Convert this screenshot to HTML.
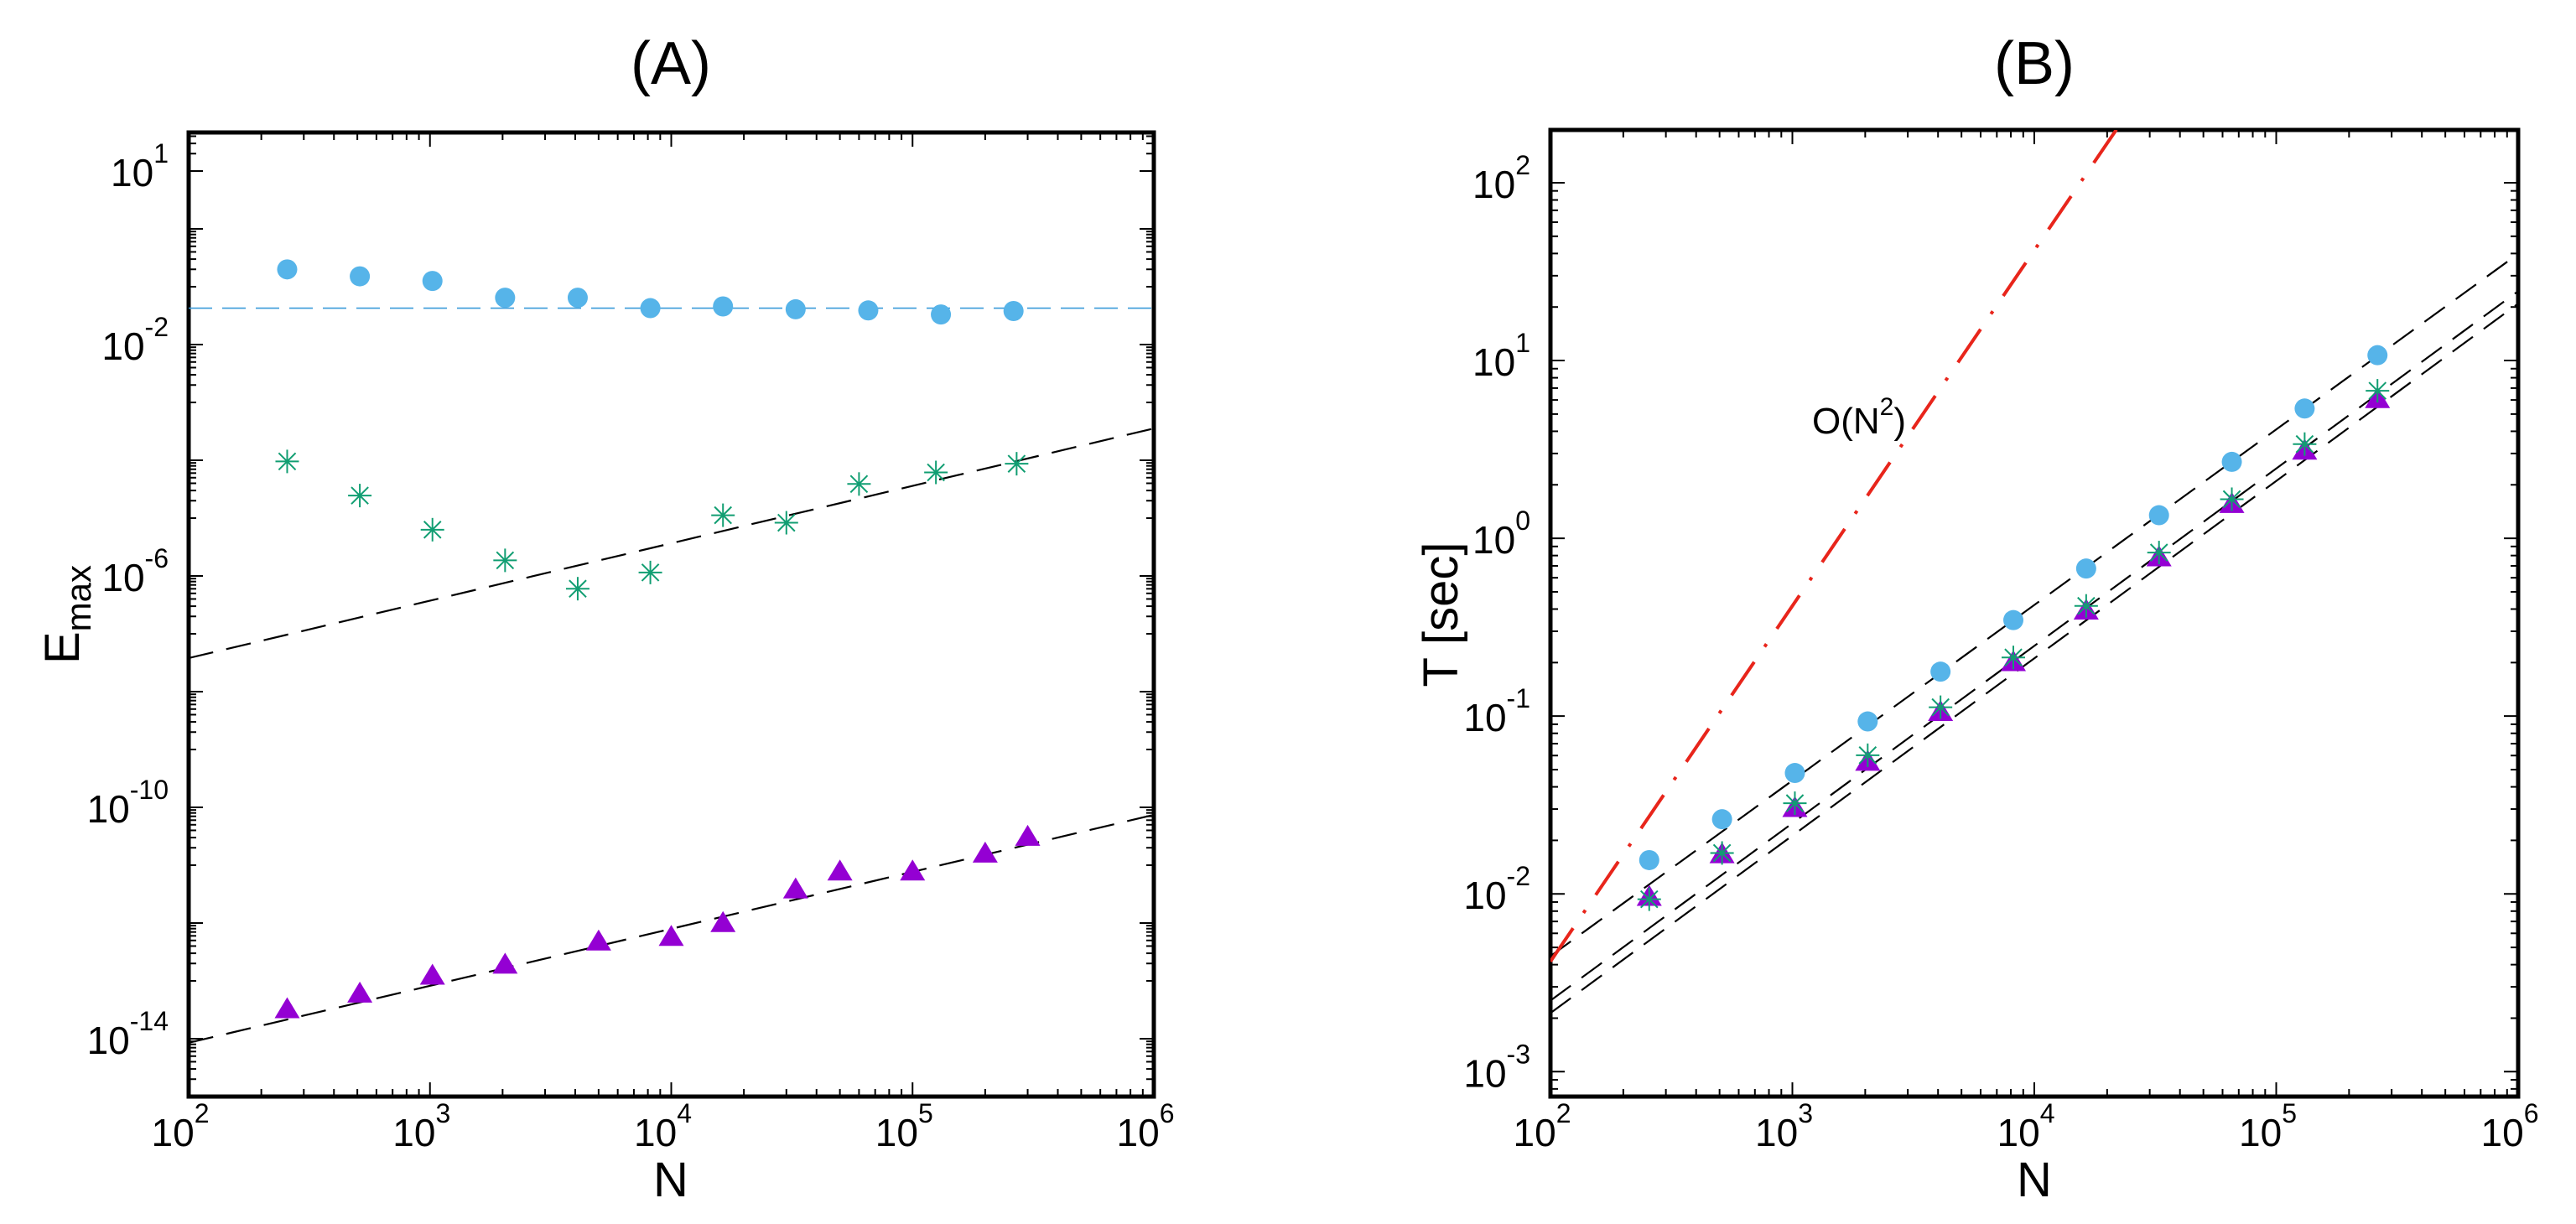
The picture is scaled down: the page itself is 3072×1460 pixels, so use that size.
<!DOCTYPE html>
<html><head><meta charset="utf-8"><style>
html,body{margin:0;padding:0;background:#fff;}
svg{display:block;font-family:"Liberation Sans",Arial,sans-serif;}
</style></head><body>
<svg id="fig" width="3072" height="1460" viewBox="0 0 3072 1460" xmlns="http://www.w3.org/2000/svg">
<rect width="3072" height="1460" fill="#fff"/>
<text x="800" y="100" font-size="72" text-anchor="middle">(A)</text>
<text x="2426" y="100" font-size="72" text-anchor="middle">(B)</text>
<text x="800" y="1427" font-size="58" text-anchor="middle">N</text>
<text x="2426" y="1427" font-size="58" text-anchor="middle">N</text>
<text transform="translate(94,733) rotate(-90)" font-size="58" text-anchor="middle">E<tspan font-size="42" dy="14">max</tspan></text>
<text transform="translate(1738,733) rotate(-90)" font-size="58" text-anchor="middle">T [sec]</text>
<g id="plots"></g>
</svg>
<script>
// ---- Panel A data (log10 values) ----
const aCircleN = [256,512,1024,2048,4096,8192,16384,32768,65536,131072,262144];
const aCircleLogE = [-0.70,-0.82,-0.90,-1.19,-1.19,-1.37,-1.34,-1.39,-1.41,-1.48,-1.42];
const aStarN = [256,512,1024,2048,4096,8192,16384,30000,60000,125000,270000];
const aStarLogE = [-4.02,-4.61,-5.20,-5.73,-6.22,-5.94,-4.95,-5.08,-4.41,-4.21,-4.06];
const aTriN = [256,512,1024,2048,5000,10000,16384,32768,50000,100000,200000,300000];
const aTriLogE = [-13.50,-13.23,-12.92,-12.73,-12.33,-12.25,-12.01,-11.43,-11.12,-11.12,-10.81,-10.52];
const aBlueRef = -1.37;
const aStarFit = [-7.42,-3.45];   // log E at N=1e2 and N=1e6
const aTriFit = [-14.07,-10.13];
const aYLabels = [1,-2,-6,-10,-14];
// ---- Panel B data ----
const bN = [256,512,1024,2048,4096,8192,16384,32768,65536,131072,262144];
const bCircleLogT = [-1.81,-1.58,-1.32,-1.03,-0.75,-0.46,-0.17,0.13,0.43,0.73,1.03];
const bStarLogT = [-2.03,-1.77,-1.49,-1.22,-0.95,-0.67,-0.38,-0.08,0.22,0.53,0.83];
const bTriLogT = [-2.02,-1.78,-1.52,-1.26,-0.98,-0.70,-0.41,-0.11,0.19,0.49,0.78];
const bFit1 = [-2.35,1.60];
const bFit2 = [-2.60,1.39];
const bFit3 = [-2.67,1.32];
const bN2Start = -2.38; // O(N^2) log T at N=1e2
const bYLabels = [2,1,0,-1,-2,-3];
const xLabels = [2,3,4,5,6];

const NS='http://www.w3.org/2000/svg';
const root=document.getElementById('plots');
function mk(tag,attrs,parent){const e=document.createElementNS(NS,tag);for(const k in attrs)e.setAttribute(k,attrs[k]);(parent||root).appendChild(e);return e;}

function makeAxes(L,R,T,B,ymin,ymax){
  return {L,R,T,B,ymin,ymax,
    x:lx=>L+(lx-2)/4*(R-L),
    y:ly=>B-(ly-ymin)/(ymax-ymin)*(B-T)};
}
const A=makeAxes(225,1376,158,1308,-15,1.667);
const Bx=makeAxes(1849,3003,155,1308,-3.14,2.297);

function frame(ax,name,yMinorList,yLabs){
  const g=mk('g',{});
  
  
  for(let d=2;d<6;d++){for(let k=1;k<=9;k++){const lx=d+Math.log10(k);const X=ax.x(lx);const len=k===1?17:9;
    mk('line',{x1:X,y1:ax.B,x2:X,y2:ax.B-len,stroke:'#000','stroke-width':2},g);
    mk('line',{x1:X,y1:ax.T,x2:X,y2:ax.T+len,stroke:'#000','stroke-width':2},g);}}
  yMinorList.forEach(t=>{const Y=ax.y(t.v);if(Y<ax.T||Y>ax.B)return;
    mk('line',{x1:ax.L,y1:Y,x2:ax.L+t.len,y2:Y,stroke:'#000','stroke-width':2},g);
    mk('line',{x1:ax.R,y1:Y,x2:ax.R-t.len,y2:Y,stroke:'#000','stroke-width':2},g);});
  mk('rect',{x:ax.L,y:ax.T,width:ax.R-ax.L,height:ax.B-ax.T,fill:'none',stroke:'#000','stroke-width':5},g);
  xLabels.forEach(p=>{const t=mk('text',{x:ax.x(p)-10,y:1367,'font-size':46,'text-anchor':'middle'},g);
    
    
    t.textContent='10';const s=mk('tspan',{'font-size':32,dy:-28},t);s.textContent=String(p);});
  yLabs.forEach(p=>{const t=mk('text',{x:ax.L-24,y:ax.y(p)+18,'font-size':46,'text-anchor':'end'},g);
    
    
    t.textContent='10';const s=mk('tspan',{'font-size':32,dy:-28},t);s.textContent=String(p);});
}
const aTicks=[];
for(let n=-16;n<=2;n++){ if(n%2===0){aTicks.push({v:n,len:17});}
  else{for(let k=1;k<=9;k++)aTicks.push({v:n+Math.log10(k),len:(n===1&&k===1)?17:9});}}
frame(A,'panel-a',aTicks,aYLabels);
const bTicks=[];
for(let n=-4;n<=2;n++){for(let k=1;k<=9;k++)bTicks.push({v:n+Math.log10(k),len:k===1?17:9});}
frame(Bx,'panel-b',bTicks,bYLabels);

const defs=mk('defs',{});
const cA=mk('clipPath',{id:'clipA'},defs);mk('rect',{x:A.L,y:A.T,width:A.R-A.L,height:A.B-A.T},cA);
const cB=mk('clipPath',{id:'clipB'},defs);mk('rect',{x:Bx.L,y:Bx.T,width:Bx.R-Bx.L,height:Bx.B-Bx.T},cB);

function line(ax,y0,y1,style,name,clip,x0=2,x1=6){
  const l=mk('line',Object.assign({x1:ax.x(x0),y1:ax.y(y0),x2:ax.x(x1),y2:ax.y(y1),'clip-path':'url(#'+clip+')',fill:'none'},style));
  
  
}
const dashBlack={stroke:'#000','stroke-width':2.2,'stroke-dasharray':'30 16'};
line(A,aBlueRef,aBlueRef,{stroke:'#3a9ad9','stroke-width':1.6,'stroke-dasharray':'28 12'},'blue-reference-line','clipA');
line(A,aStarFit[0],aStarFit[1],dashBlack,'star-fit-line','clipA');
line(A,aTriFit[0],aTriFit[1],dashBlack,'triangle-fit-line','clipA');
line(Bx,bFit1[0],bFit1[1],dashBlack,'circle-fit-line','clipB');
line(Bx,bFit2[0],bFit2[1],dashBlack,'star-fit-line-b','clipB');
line(Bx,bFit3[0],bFit3[1],dashBlack,'triangle-fit-line-b','clipB');
line(Bx,bN2Start,bN2Start+8,{stroke:'#e8251b','stroke-width':4,'stroke-dasharray':'48 22 4 22'},'order-n2-line','clipB');
const lab=mk('text',{x:2161,y:517,'font-size':44});


lab.textContent='O(N';const sp=mk('tspan',{'font-size':30,dy:-22},lab);sp.textContent='2';
const sp2=mk('tspan',{'font-size':44,dy:22},lab);sp2.textContent=')';

function circle(ax,n,v,name){const c=mk('circle',{cx:ax.x(Math.log10(n)),cy:ax.y(v),r:12,fill:'#56B4E9'});
  
  }
function star(ax,n,v,name){const X=ax.x(Math.log10(n)),Y=ax.y(v),r=14;const g=mk('g',{stroke:'#119e72','stroke-width':2});
  
  
  mk('line',{x1:X,y1:Y-r,x2:X,y2:Y+r},g);mk('line',{x1:X-r,y1:Y,x2:X+r,y2:Y},g);
  const d=r*0.72;mk('line',{x1:X-d,y1:Y-d,x2:X+d,y2:Y+d},g);mk('line',{x1:X-d,y1:Y+d,x2:X+d,y2:Y-d},g);}
function tri(ax,n,v,name){const X=ax.x(Math.log10(n)),Y=ax.y(v);
  const p=mk('polygon',{points:`${X},${Y-15} ${X-15},${Y+10} ${X+15},${Y+10}`,fill:'#9400D3'});
  
  }

aCircleN.forEach((n,i)=>circle(A,n,aCircleLogE[i],'a-circle-point'));
aStarN.forEach((n,i)=>star(A,n,aStarLogE[i],'a-star-point'));
aTriN.forEach((n,i)=>tri(A,n,aTriLogE[i],'a-triangle-point'));
bN.forEach((n,i)=>circle(Bx,n,bCircleLogT[i],'b-circle-point'));
bN.forEach((n,i)=>tri(Bx,n,bTriLogT[i],'b-triangle-point'));
bN.forEach((n,i)=>star(Bx,n,bStarLogT[i],'b-star-point'));
</script>
</body></html>
